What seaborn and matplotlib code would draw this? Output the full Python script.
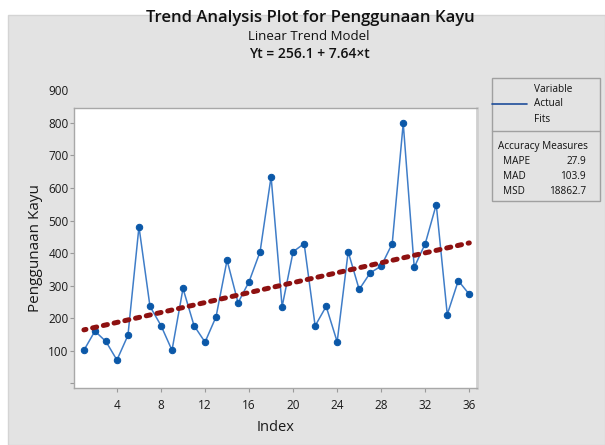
import matplotlib
matplotlib.use('Agg')
import matplotlib.pyplot as plt
import matplotlib.transforms as mtransforms
from matplotlib.patches import Rectangle
from matplotlib.lines import Line2D
import seaborn as sns

# Data
index = list(range(1, 37))
actual = [201, 260, 228, 171, 247, 581, 336, 277, 201, 391,
          277, 226, 304, 478, 347, 412, 504, 735, 335, 504,
          529, 276, 336, 227, 504, 388, 439, 460, 529, 899,
          456, 529, 649, 311, 415, 373]
intercept = 256.1
slope = 7.64
fits = [intercept + slope * t for t in index]

x_ticks = [4, 8, 12, 16, 20, 24, 28, 32, 36]
y_ticks = [100, 200, 300, 400, 500, 600, 700, 800, 900]
measure_names = ['MAPE', 'MAD', 'MSD']
measure_values = ['27.9', '103.9', '18862.7']

sns.set_style('white')
plt.rcParams['font.family'] = ['Open Sans', 'Noto Sans', 'DejaVu Sans']
plt.rcParams['lines.scale_dashes'] = False

W, H = 605, 445
fig = plt.figure(figsize=(W / 100, H / 100), dpi=100, facecolor='white')


def fx(x):
    return x / W


def fy(y):
    return 1 - y / H


# gray panel behind everything
fig.patches.append(Rectangle((fx(8), 0), 1 - fx(8), fy(15), transform=fig.transFigure,
                             facecolor='#e3e3e3', edgecolor='#d4d4d4', lw=1, zorder=-10))

ax = fig.add_axes([fx(74), fy(388), fx(477) - fx(74), fy(108) - fy(388)])
ax.set_facecolor('white')

sns.lineplot(x=index, y=actual, ax=ax, color='#3f7dc8', lw=1.1, marker='o', markersize=4.6,
             markerfacecolor='#0b58a8', markeredgecolor='#0b58a8', zorder=3)
sns.lineplot(x=index, y=fits, ax=ax, color='#8e1111', lw=3.6,
             linestyle=(1.5, (3.0, 4.92)), dash_capstyle='round', zorder=4)

ax.set_xlim(0.1, 36.7)
ax.set_ylim(85, 946)
ax.set_xticks(x_ticks)
ax.set_yticks(y_ticks)
ax.tick_params(axis='both', which='major', direction='out', length=3, width=0.8,
               color='#9a9a9a', labelsize=8.5, labelcolor='#1a1a1a', bottom=True, left=True)
ax.tick_params(axis='x', pad=5)
ax.tick_params(axis='y', pad=1)

# the reference shows the y labels one step above their ticks
shift = mtransforms.ScaledTranslation(0, 0.325, fig.dpi_scale_trans)
for tick in ax.yaxis.get_major_ticks():
    tick.label1.set_transform(tick.label1.get_transform() + shift)

for side in ['left', 'bottom', 'top']:
    ax.spines[side].set_color('#a8a8a8')
    ax.spines[side].set_linewidth(1)
ax.spines['right'].set_color('#cfcfcf')
ax.spines['right'].set_linewidth(2)

ax.set_xlabel('Index', fontsize=10.5, color='#1a1a1a', labelpad=6)
ax.set_ylabel('Penggunaan Kayu', fontsize=11, color='#1a1a1a', labelpad=4)

# titles
fig.text(fx(310), fy(18), 'Trend Analysis Plot for Penggunaan Kayu', ha='center', va='center',
         fontsize=12, fontweight='semibold', color='#111111')
fig.text(fx(309), fy(37), 'Linear Trend Model', ha='center', va='center',
         fontsize=9.5, color='#111111')
fig.text(fx(309), fy(54), 'Yt = 256.1 + 7.64\u00d7t', ha='center', va='center',
         fontsize=10, fontweight='semibold', color='#111111')

# legend / accuracy box
fig.patches.append(Rectangle((fx(492), fy(201)), fx(600) - fx(492), fy(78) - fy(201),
                             transform=fig.transFigure, facecolor='#e3e3e3',
                             edgecolor='#a0a0a0', lw=1, zorder=1))
fig.lines.append(Line2D([fx(492), fx(600)], [fy(131), fy(131)], transform=fig.transFigure,
                        color='#a0a0a0', lw=1))
fig.lines.append(Line2D([fx(492), fx(527)], [fy(104), fy(104)], transform=fig.transFigure,
                        color='#1f4e9a', lw=1.2))
legend_font = dict(fontsize=7.2, color='#111111', va='center')
fig.text(fx(534), fy(90), 'Variable', ha='left', **legend_font)
fig.text(fx(534), fy(104), 'Actual', ha='left', **legend_font)
fig.text(fx(534), fy(119), 'Fits', ha='left', **legend_font)
fig.text(fx(498), fy(147), 'Accuracy Measures', ha='left', **legend_font)
for i, (name, val) in enumerate(zip(measure_names, measure_values)):
    y = 161 + i * 15.5
    fig.text(fx(503), fy(y), name, ha='left', **legend_font)
    fig.text(fx(586), fy(y), val, ha='right', **legend_font)

fig.savefig('out.png', dpi=100, facecolor='white')
